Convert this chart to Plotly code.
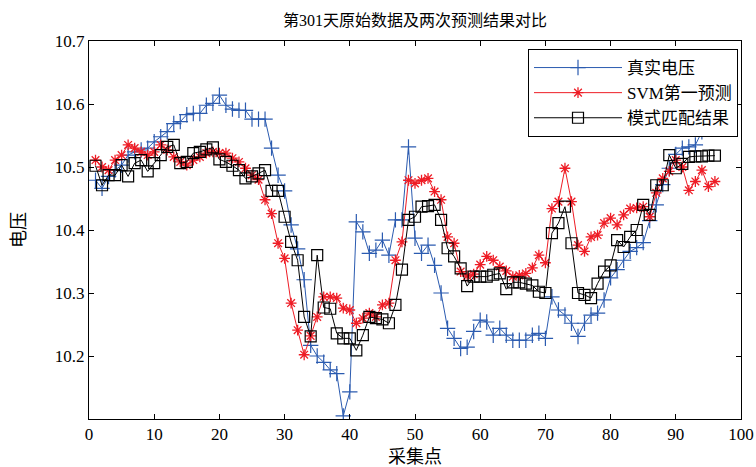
import plotly.graph_objects as go

# sample index
sample_idx = list(range(1, 97))

# 真实电压 (blue)
real_voltage = [
    10.479, 10.466, 10.485, 10.495, 10.503, 10.519, 10.524, 10.527, 10.530, 10.540,
    10.548, 10.556, 10.569, 10.572, 10.583, 10.585, 10.585, 10.598, 10.601, 10.614,
    10.598, 10.592, 10.590, 10.590, 10.576, 10.576, 10.576, 10.530, 10.487, 10.462,
    10.408, 10.370, 10.321, 10.217, 10.200, 10.190, 10.178, 10.172, 10.105, 10.143,
    10.413, 10.397, 10.363, 10.368, 10.384, 10.360, 10.416, 10.416, 10.532, 10.387,
    10.363, 10.376, 10.344, 10.300, 10.244, 10.228, 10.212, 10.214, 10.239, 10.257,
    10.254, 10.233, 10.244, 10.233, 10.225, 10.225, 10.225, 10.233, 10.236, 10.228,
    10.294, 10.273, 10.265, 10.252, 10.231, 10.252, 10.265, 10.268, 10.289, 10.324,
    10.337, 10.352, 10.366, 10.372, 10.380, 10.415, 10.440, 10.472, 10.498, 10.520,
    10.530, 10.532, 10.535, 10.556, 10.562, 10.630,
]

# SVM第一预测 (red)
svm_pred = [
    10.511, 10.500, 10.495, 10.511, 10.519, 10.535, 10.530, 10.524, 10.519, 10.524,
    10.535, 10.527, 10.516, 10.508, 10.503, 10.511, 10.516, 10.522, 10.524, 10.522,
    10.522, 10.514, 10.508, 10.498, 10.487, 10.480, 10.448, 10.426, 10.379, 10.355,
    10.284, 10.241, 10.202, 10.232, 10.262, 10.294, 10.294, 10.292, 10.276, 10.273,
    10.252, 10.260, 10.268, 10.262, 10.281, 10.284, 10.352, 10.381, 10.479, 10.474,
    10.479, 10.482, 10.461, 10.448, 10.389, 10.379, 10.334, 10.327, 10.330, 10.345,
    10.358, 10.352, 10.342, 10.335, 10.326, 10.328, 10.331, 10.340, 10.360, 10.348,
    10.434, 10.445, 10.498, 10.445, 10.376, 10.366, 10.389, 10.392, 10.411, 10.419,
    10.408, 10.424, 10.434, 10.435, 10.437, 10.421, 10.459, 10.482, 10.493, 10.511,
    10.500, 10.463, 10.477, 10.495, 10.469, 10.477,
]

# 模式匹配结果 (black)
pattern_match = [
    10.502, 10.471, 10.487, 10.487, 10.503, 10.485, 10.506, 10.511, 10.493, 10.506,
    10.519, 10.532, 10.535, 10.506, 10.508, 10.522, 10.524, 10.528, 10.531, 10.512,
    10.508, 10.502, 10.495, 10.482, 10.485, 10.490, 10.495, 10.462, 10.462, 10.421,
    10.381, 10.352, 10.262, 10.231, 10.360, 10.277, 10.275, 10.236, 10.228, 10.228,
    10.209, 10.233, 10.262, 10.260, 10.258, 10.252, 10.281, 10.337, 10.416, 10.421,
    10.437, 10.438, 10.440, 10.416, 10.371, 10.358, 10.339, 10.311, 10.326, 10.326,
    10.326, 10.329, 10.331, 10.306, 10.317, 10.317, 10.315, 10.312, 10.302, 10.300,
    10.395, 10.411, 10.437, 10.379, 10.300, 10.297, 10.292, 10.315, 10.334, 10.344,
    10.384, 10.373, 10.389, 10.400, 10.440, 10.424, 10.471, 10.471, 10.519, 10.498,
    10.505, 10.516, 10.517, 10.517, 10.518, 10.518,
]

series_names = ["真实电压", "SVM第一预测", "模式匹配结果"]
x_ticks = [0, 10, 20, 30, 40, 50, 60, 70, 80, 90, 100]
y_ticks = [10.2, 10.3, 10.4, 10.5, 10.6, 10.7]

FONT = "'Liberation Serif', 'Noto Sans CJK SC', serif"
BLUE = "#2b5bb0"
RED = "#ee1c25"

fig = go.Figure()
fig.add_trace(go.Scatter(
    x=sample_idx, y=real_voltage, name=series_names[0], mode="lines+markers",
    line=dict(color=BLUE, width=1),
    marker=dict(symbol="cross-thin", size=11, color=BLUE, line=dict(color=BLUE, width=1.2)),
))
fig.add_trace(go.Scatter(
    x=sample_idx, y=svm_pred, name=series_names[1], mode="lines+markers",
    line=dict(color=RED, width=1),
    marker=dict(symbol="asterisk-open", size=9, color=RED, line=dict(color=RED, width=1.3)),
))
fig.add_trace(go.Scatter(
    x=sample_idx, y=pattern_match, name=series_names[2], mode="lines+markers",
    line=dict(color="black", width=1),
    marker=dict(symbol="square-open", size=11, color="black", line=dict(color="black", width=1.2)),
))

axis_common = dict(
    showline=True, linecolor="black", linewidth=1, mirror="ticks",
    ticks="inside", ticklen=5, tickcolor="black", showgrid=False, zeroline=False,
    automargin=False,
    tickfont=dict(family=FONT, size=17, color="black"),
)

fig.update_layout(
    width=756, height=467,
    margin=dict(l=89, r=15, t=41, b=48),
    paper_bgcolor="white", plot_bgcolor="white",
    font=dict(family=FONT, color="black"),
    title=dict(text="第301天原始数据及两次预测结果对比", x=0.5, xref="paper",
               y=1 - 20 / 467, yref="container", yanchor="middle", xanchor="center",
               automargin=False,
               font=dict(family=FONT, size=16, color="black")),
    xaxis=dict(range=[0, 100], tickvals=x_ticks,
               title=dict(text="采集点", font=dict(family=FONT, size=18), standoff=6),
               **axis_common),
    yaxis=dict(range=[10.1, 10.7], tickvals=y_ticks, tickformat=".1f",
               title=dict(text="电压", font=dict(family=FONT, size=18), standoff=24),
               **axis_common),
    legend=dict(x=(738 - 89) / 652, y=1 - (49 - 41) / 378, xanchor="right", yanchor="top",
                bgcolor="white", bordercolor="black", borderwidth=1,
                font=dict(family=FONT, size=17, color="black"),
                itemwidth=88, tracegroupgap=0),
    showlegend=True,
)

fig.write_html("out.html", config={"displayModeBar": False},
               post_script="document.body.style.margin='0px';")
